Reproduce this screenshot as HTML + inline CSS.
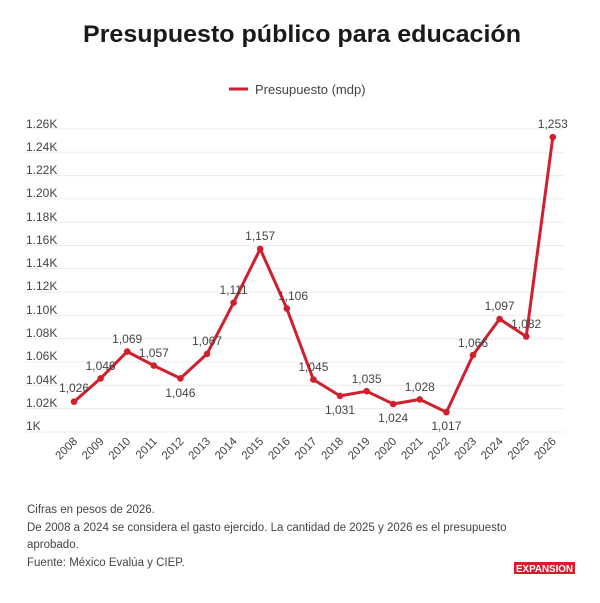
<!DOCTYPE html>
<html><head><meta charset="utf-8"><style>
html,body{margin:0;padding:0;background:#fff;}
svg{display:block;font-family:"Liberation Sans",sans-serif;}
</style></head><body>
<svg width="600" height="603" viewBox="0 0 600 603">
<rect width="600" height="603" fill="#fff"/>
<text x="302" y="42" text-anchor="middle" font-size="24" font-weight="bold" fill="#1a1a1a" textLength="438" lengthAdjust="spacingAndGlyphs">Presupuesto público para educación</text>
<line x1="229" y1="89" x2="248" y2="89" stroke="#d0202e" stroke-width="3"/>
<text x="255" y="94" font-size="13" fill="#444">Presupuesto (mdp)</text>
<g stroke="#ececec" stroke-width="1">
<line x1="25" x2="564" y1="129" y2="129"/><line x1="25" x2="564" y1="152.3" y2="152.3"/><line x1="25" x2="564" y1="175.6" y2="175.6"/><line x1="25" x2="564" y1="198.9" y2="198.9"/><line x1="25" x2="564" y1="222.2" y2="222.2"/><line x1="25" x2="564" y1="245.5" y2="245.5"/><line x1="25" x2="564" y1="268.8" y2="268.8"/><line x1="25" x2="564" y1="292.1" y2="292.1"/><line x1="25" x2="564" y1="315.4" y2="315.4"/><line x1="25" x2="564" y1="338.7" y2="338.7"/><line x1="25" x2="564" y1="362" y2="362"/><line x1="25" x2="564" y1="385.3" y2="385.3"/><line x1="25" x2="564" y1="408.6" y2="408.6"/><line x1="25" x2="564" y1="432" y2="432"/>
</g>
<g font-size="12" fill="#444">
<text x="26" y="128">1.26K</text><text x="26" y="151">1.24K</text><text x="26" y="174">1.22K</text><text x="26" y="197">1.20K</text><text x="26" y="221">1.18K</text><text x="26" y="244">1.16K</text><text x="26" y="267">1.14K</text><text x="26" y="290">1.12K</text><text x="26" y="314">1.10K</text><text x="26" y="337">1.08K</text><text x="26" y="360">1.06K</text><text x="26" y="384">1.04K</text><text x="26" y="407">1.02K</text><text x="26" y="430">1K</text>
</g>
<g font-size="11.5" fill="#444" text-anchor="end">
<text transform="translate(78,442) rotate(-45)">2008</text>
<text transform="translate(104.6,442) rotate(-45)">2009</text>
<text transform="translate(131.2,442) rotate(-45)">2010</text>
<text transform="translate(157.8,442) rotate(-45)">2011</text>
<text transform="translate(184.4,442) rotate(-45)">2012</text>
<text transform="translate(211,442) rotate(-45)">2013</text>
<text transform="translate(237.6,442) rotate(-45)">2014</text>
<text transform="translate(264.2,442) rotate(-45)">2015</text>
<text transform="translate(290.8,442) rotate(-45)">2016</text>
<text transform="translate(317.4,442) rotate(-45)">2017</text>
<text transform="translate(344,442) rotate(-45)">2018</text>
<text transform="translate(370.6,442) rotate(-45)">2019</text>
<text transform="translate(397.2,442) rotate(-45)">2020</text>
<text transform="translate(423.8,442) rotate(-45)">2021</text>
<text transform="translate(450.4,442) rotate(-45)">2022</text>
<text transform="translate(477,442) rotate(-45)">2023</text>
<text transform="translate(503.6,442) rotate(-45)">2024</text>
<text transform="translate(530.2,442) rotate(-45)">2025</text>
<text transform="translate(556.8,442) rotate(-45)">2026</text>
</g>
<polyline fill="none" stroke="#d0202e" stroke-width="3" stroke-linejoin="round" points="74,401.7 100.6,378.4 127.2,351.6 153.8,365.6 180.4,378.4 207,353.9 233.6,302.7 260.2,248.9 286.8,308.5 313.4,379.6 340,395.9 366.6,391.2 393.2,404 419.8,399.4 446.4,412.2 473,355.1 499.6,319 526.2,336.5 552.8,137.2"/>
<g fill="#d0202e">
<circle cx="74" cy="401.7" r="3.3"/><circle cx="100.6" cy="378.4" r="3.3"/><circle cx="127.2" cy="351.6" r="3.3"/><circle cx="153.8" cy="365.6" r="3.3"/><circle cx="180.4" cy="378.4" r="3.3"/><circle cx="207" cy="353.9" r="3.3"/><circle cx="233.6" cy="302.7" r="3.3"/><circle cx="260.2" cy="248.9" r="3.3"/><circle cx="286.8" cy="308.5" r="3.3"/><circle cx="313.4" cy="379.6" r="3.3"/><circle cx="340" cy="395.9" r="3.3"/><circle cx="366.6" cy="391.2" r="3.3"/><circle cx="393.2" cy="404" r="3.3"/><circle cx="419.8" cy="399.4" r="3.3"/><circle cx="446.4" cy="412.2" r="3.3"/><circle cx="473" cy="355.1" r="3.3"/><circle cx="499.6" cy="319" r="3.3"/><circle cx="526.2" cy="336.5" r="3.3"/><circle cx="552.8" cy="137.2" r="3.3"/>
</g>
<g font-size="12" fill="#444" text-anchor="middle">
<text x="74" y="392">1,026</text>
<text x="100.6" y="370">1,046</text>
<text x="127.2" y="343">1,069</text>
<text x="153.8" y="357">1,057</text>
<text x="180.4" y="397">1,046</text>
<text x="207" y="345">1,067</text>
<text x="233.6" y="294">1,111</text>
<text x="260.2" y="240">1,157</text>
<text x="293" y="300">1,106</text>
<text x="313.4" y="371">1,045</text>
<text x="340" y="414">1,031</text>
<text x="366.6" y="383">1,035</text>
<text x="393.2" y="422">1,024</text>
<text x="419.8" y="391">1,028</text>
<text x="446.4" y="430">1,017</text>
<text x="473" y="347">1,066</text>
<text x="499.6" y="310">1,097</text>
<text x="526.2" y="328">1,082</text>
<text x="552.8" y="128">1,253</text>
</g>
<g font-size="11.5" fill="#444">
<text x="27" y="513">Cifras en pesos de 2026.</text>
<text x="27" y="531">De 2008 a 2024 se considera el gasto ejercido. La cantidad de 2025 y 2026 es el presupuesto</text>
<text x="27" y="548">aprobado.</text>
<text x="27" y="566">Fuente: México Evalúa y CIEP.</text>
</g>
<rect x="514" y="562" width="61" height="12" fill="#d0202e"/>
<text x="544.5" y="572" text-anchor="middle" font-size="10" font-weight="bold" fill="#fff" textLength="57" lengthAdjust="spacingAndGlyphs">EXPANSION</text>
</svg>
</body></html>
